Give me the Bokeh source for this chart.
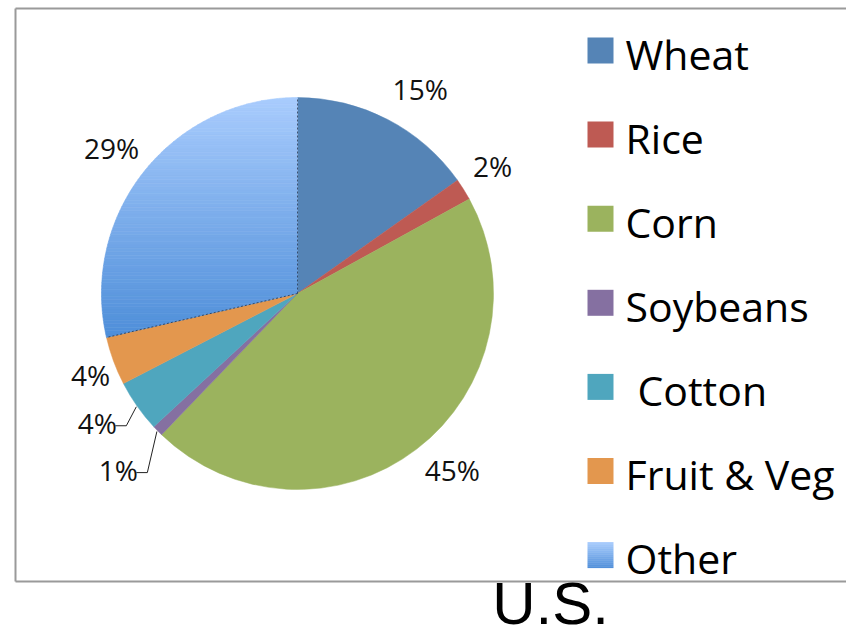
import numpy as np
from bokeh.plotting import figure
from bokeh.models import Range1d, ColumnDataSource
from bokeh.core.properties import value
from bokeh.embed import file_html
from bokeh.resources import INLINE

# ---------------- data ----------------
categories = ["Wheat", "Rice", "Corn", "Soybeans", " Cotton", "Fruit & Veg", "Other"]
shares = [15.2, 1.8, 45.2, 0.9, 4.3, 4.0, 28.6]
pct_labels = ["15%", "2%", "45%", "1%", "4%", "4%", "29%"]
title_text = "U.S."

# ---------------- style / layout ----------------
colors = ["#5584B6", "#BE5A53", "#9BB35E", "#8570A1", "#4FA6BE", "#E3974E", "#82AEEB"]
other_top = np.array([0xA9, 0xCC, 0xFD])
other_bottom = np.array([0x4E, 0x8E, 0xD9])
W, H = 846, 633
OX, OY = 0, 633  # screen -> data: x = xs - OX, y = OY - ys


def sx(xs):
    return xs - OX


def sy(ys):
    return OY - ys


CX, CY, R = sx(297), sy(293), 196
label_r = 230
label_nudge = [(17, 0), (0, -5), (15, -6), (-15, 15), (-12, -3), (9, 2), (-6, -2)]  # screen px
leader = [False, False, False, True, True, False, False]

p = figure(width=W, height=H, x_range=Range1d(0, W), y_range=Range1d(0, H),
           output_backend="svg", toolbar_location=None, min_border=0,
           x_axis_type=None, y_axis_type=None)
p.grid.visible = False
p.outline_line_color = None
p.background_fill_color = "white"

# frame (right side runs off the page)
fc = "#9a9a9a"
p.segment(x0=[sx(15), sx(15), sx(15)], y0=[sy(8), sy(8), sy(581)],
          x1=[W + 20, sx(15), W + 20], y1=[sy(8), sy(581), sy(581)],
          line_color=fc, line_width=2)

# pie geometry
fr = np.array(shares, dtype=float) / sum(shares)
cum = np.concatenate([[0.0], np.cumsum(fr)])
th0 = 2 * np.pi * cum[:-1]   # clockwise from 12 o'clock
th1 = 2 * np.pi * cum[1:]
mid = (th0 + th1) / 2

src = ColumnDataSource(dict(
    start=(np.pi / 2 - th0)[:-1], end=(np.pi / 2 - th1)[:-1], color=colors[:-1]))
p.wedge(x=CX, y=CY, radius=R, start_angle="start", end_angle="end",
        direction="clock", fill_color="color", line_color="color", line_width=0.5,
        source=src)


def clip(poly, y0, above):
    out = []
    n = len(poly)
    for i in range(n):
        P, Q = poly[i], poly[(i + 1) % n]
        inP = P[1] >= y0 if above else P[1] <= y0
        inQ = Q[1] >= y0 if above else Q[1] <= y0
        if inP:
            out.append(P)
        if inP != inQ:
            t = (y0 - P[1]) / (Q[1] - P[1])
            out.append((P[0] + t * (Q[0] - P[0]), y0))
    return out


def hexc(c):
    c = np.clip(np.round(c), 0, 255).astype(int)
    return "#%02x%02x%02x" % tuple(c)


# "Other" slice with vertical gradient
k = len(shares) - 1
ts = np.linspace(th0[k], th1[k], 240)
poly = [(CX, CY)] + [(CX + R * np.sin(t), CY + R * np.cos(t)) for t in ts]
ys_all = [q[1] for q in poly]
ymin, ymax = min(ys_all), max(ys_all)
NB = 70
bx, by, bc = [], [], []
edges = np.linspace(ymax, ymin, NB + 1)
for b in range(NB):
    hi, lo = edges[b], edges[b + 1]
    pp = clip(clip(poly, lo, True), hi, False)
    if len(pp) < 3:
        continue
    f = (b + 0.5) / NB
    bx.append([q[0] for q in pp])
    by.append([q[1] for q in pp])
    bc.append(hexc(other_top * (1 - f) + other_bottom * f))
p.patches(xs=bx, ys=by, fill_color=bc, line_color=bc, line_width=0.6)

# dark dotted edges of the "Other" slice
p.segment(x0=[CX, CX], y0=[CY, CY],
          x1=[CX + R * np.sin(th0[k]), CX + R * np.sin(th1[k])],
          y1=[CY + R * np.cos(th0[k]), CY + R * np.cos(th1[k])],
          line_color="#1f2a3a", line_width=1, line_dash="2 2", line_alpha=0.7)

# percentage labels
lx = CX + label_r * np.sin(mid) + np.array([n[0] for n in label_nudge])
ly = CY + label_r * np.cos(mid) - np.array([n[1] for n in label_nudge])
p.text(x=lx, y=ly, text=pct_labels, text_font=value("Open Sans"),
       text_font_size="28px", text_align="center", text_baseline="middle",
       text_color="#111111")

# leader lines
for i in range(len(shares)):
    if leader[i]:
        x0 = CX + (R + 1) * np.sin(mid[i])
        y0 = CY + (R + 1) * np.cos(mid[i])
        p.line(x=[x0, lx[i] + 29, lx[i] + 18], y=[y0, ly[i] - 3, ly[i] - 3],
               line_color="#222222", line_width=1)

# legend
leg_y = [sy(50 + 84.1 * i) for i in range(len(categories))]
sq = 26
for i in range(len(categories) - 1):
    p.quad(left=sx(587), right=sx(587) + sq, bottom=leg_y[i] - sq / 2,
           top=leg_y[i] + sq / 2, fill_color=colors[i], line_color=None)
# gradient legend square for "Other"
nq = 13
for j in range(nq):
    f = (j + 0.5) / nq
    top = leg_y[-1] + sq / 2 - j * sq / nq
    p.quad(left=sx(587), right=sx(587) + sq, bottom=top - sq / nq, top=top,
           fill_color=hexc(other_top * (1 - f) + other_bottom * f), line_color=None)
# leading spaces collapse in SVG text, so indent them by hand
leg_x = [sx(625) + 12 * (len(c) - len(c.lstrip())) for c in categories]
p.text(x=leg_x, y=[y - 3 for y in leg_y], text=categories,
       text_font=value("Open Sans"), text_font_size="41px",
       text_align="left", text_baseline="middle", text_color="#000000")

# title
p.text(x=[sx(550)], y=[sy(603)], text=[title_text], text_font=value("Liberation Sans"),
       text_font_size="60px", text_align="center", text_baseline="middle",
       text_color="#000000")

open("out.html", "w").write(file_html(p, INLINE))
